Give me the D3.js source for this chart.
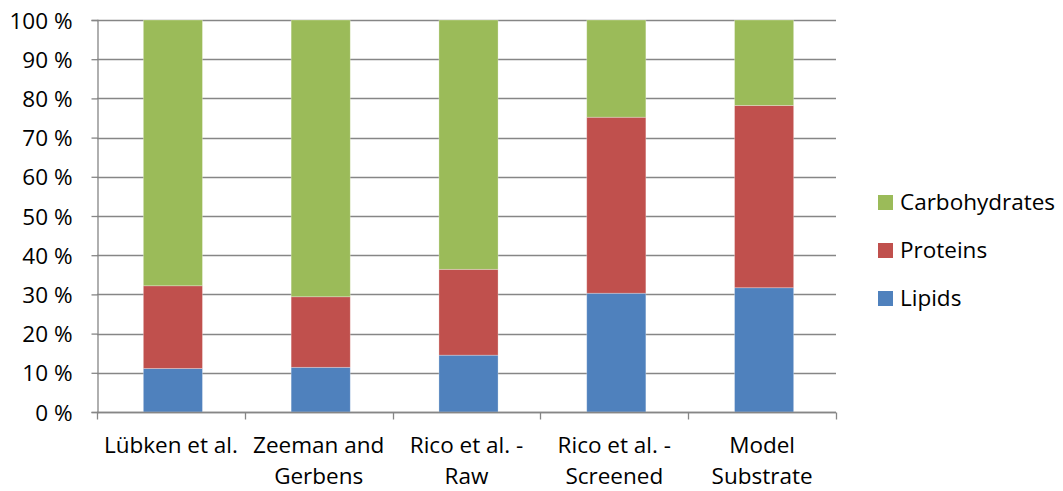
<!DOCTYPE html>
<html>
<head>
<meta charset="utf-8">
<script src="https://cdn.jsdelivr.net/npm/d3@7"></script>
<style>
  html, body { margin: 0; padding: 0; background: #fff; }
  svg text { font-family: "Open Sans", Lato, sans-serif; fill: #000; }
</style>
</head>
<body>
<svg id="chart" width="1063" height="491"></svg>
<script>
// Composition of each substrate (percent of total)
const categories = [
  ["Lübken et al."],
  ["Zeeman and", "Gerbens"],
  ["Rico et al. -", "Raw"],
  ["Rico et al. -", "Screened"],
  ["Model", "Substrate"]
];
const lipids        = [11.1, 11.4, 14.5, 30.3, 31.7];
const proteins      = [21.1, 18.0, 21.9, 44.9, 46.5];
const carbohydrates = [67.8, 70.6, 63.6, 24.8, 21.8];
const seriesNames = ["Lipids", "Proteins", "Carbohydrates"];
const yTicks = [0, 10, 20, 30, 40, 50, 60, 70, 80, 90, 100];

const colors = { Lipids: "#4F81BD", Proteins: "#C0504D", Carbohydrates: "#9BBB59" };

const rows = categories.map((c, i) => ({
  key: i,
  Lipids: lipids[i],
  Proteins: proteins[i],
  Carbohydrates: carbohydrates[i]
}));

const svg = d3.select("#chart");
const margin = { left: 97, right: 227, top: 20, bottom: 79 };
const W = 1063, H = 491;
const fontSize = 22.5;

const xCat = d3.scaleBand()
  .domain(rows.map(d => d.key))
  .range([margin.left, W - margin.right]);
const x = d3.scaleBand()
  .domain(rows.map(d => d.key))
  .range([margin.left + 2, W - margin.right + 2])
  .paddingInner(0.6)
  .paddingOuter(0.3);
const y = d3.scaleLinear().domain([0, 100]).range([H - margin.bottom, margin.top]);

const gridColor = "#868686";

// horizontal gridlines
svg.append("g")
  .selectAll("line")
  .data(yTicks)
  .join("line")
  .attr("x1", margin.left)
  .attr("x2", W - margin.right)
  .attr("y1", d => Math.round(y(d)) + 0.5)
  .attr("y2", d => Math.round(y(d)) + 0.5)
  .attr("stroke", gridColor)
  .attr("stroke-width", 1.3);

// stacked bars
const stack = d3.stack().keys(seriesNames)(rows);
svg.append("g")
  .selectAll("g")
  .data(stack)
  .join("g")
  .attr("fill", d => colors[d.key])
  .selectAll("rect")
  .data(d => d)
  .join("rect")
  .attr("x", d => x(d.data.key))
  .attr("width", x.bandwidth())
  .attr("y", d => y(d[1]))
  .attr("height", d => y(d[0]) - y(d[1]))
  .attr("stroke", "rgba(255,255,255,0.35)")
  .attr("stroke-width", 0.8);

// y axis
const yAxis = d3.axisLeft(y)
  .tickValues(yTicks)
  .tickSize(6)
  .tickFormat(d => d + " %");
const gy = svg.append("g")
  .attr("transform", `translate(${margin.left + 0.5},0)`)
  .call(yAxis);
gy.select(".domain").attr("stroke", gridColor).attr("stroke-width", 1.3);
gy.selectAll(".tick line").attr("stroke", gridColor).attr("stroke-width", 1.3);
gy.selectAll(".tick text")
  .attr("x", -25)
  .attr("dy", "0.36em")
  .attr("font-size", fontSize)
  .attr("fill", "#000")
  .style("font-family", "'Open Sans', sans-serif");

// x axis with ticks at category boundaries
const xLine = Math.round(y(0)) + 0.5;
svg.append("line")
  .attr("x1", margin.left).attr("x2", W - margin.right)
  .attr("y1", xLine).attr("y2", xLine)
  .attr("stroke", gridColor).attr("stroke-width", 1.3);
const bounds = rows.map(d => xCat(d.key)).concat([W - margin.right]);
svg.append("g")
  .selectAll("line")
  .data(bounds)
  .join("line")
  .attr("x1", d => Math.round(d) + 0.5)
  .attr("x2", d => Math.round(d) + 0.5)
  .attr("y1", xLine)
  .attr("y2", xLine + 7)
  .attr("stroke", gridColor)
  .attr("stroke-width", 1.3);

// category labels
const labels = svg.append("g")
  .selectAll("text")
  .data(rows)
  .join("text")
  .attr("text-anchor", "middle")
  .attr("font-size", fontSize)
  .attr("x", d => xCat(d.key) + xCat.bandwidth() / 2);
labels.selectAll("tspan")
  .data(d => categories[d.key])
  .join("tspan")
  .attr("x", function () { return d3.select(this.parentNode).attr("x"); })
  .attr("y", (d, i) => 453 + i * 31)
  .text(d => d);

// legend
const legendItems = seriesNames.slice().reverse();
const lg = svg.append("g")
  .selectAll("g")
  .data(legendItems)
  .join("g")
  .attr("transform", (d, i) => `translate(878,${195 + i * 48})`);
lg.append("rect")
  .attr("width", 15).attr("height", 15)
  .attr("fill", d => colors[d]);
lg.append("text")
  .attr("x", 22).attr("y", 15)
  .attr("font-size", fontSize)
  .text(d => d);
</script>
</body>
</html>
